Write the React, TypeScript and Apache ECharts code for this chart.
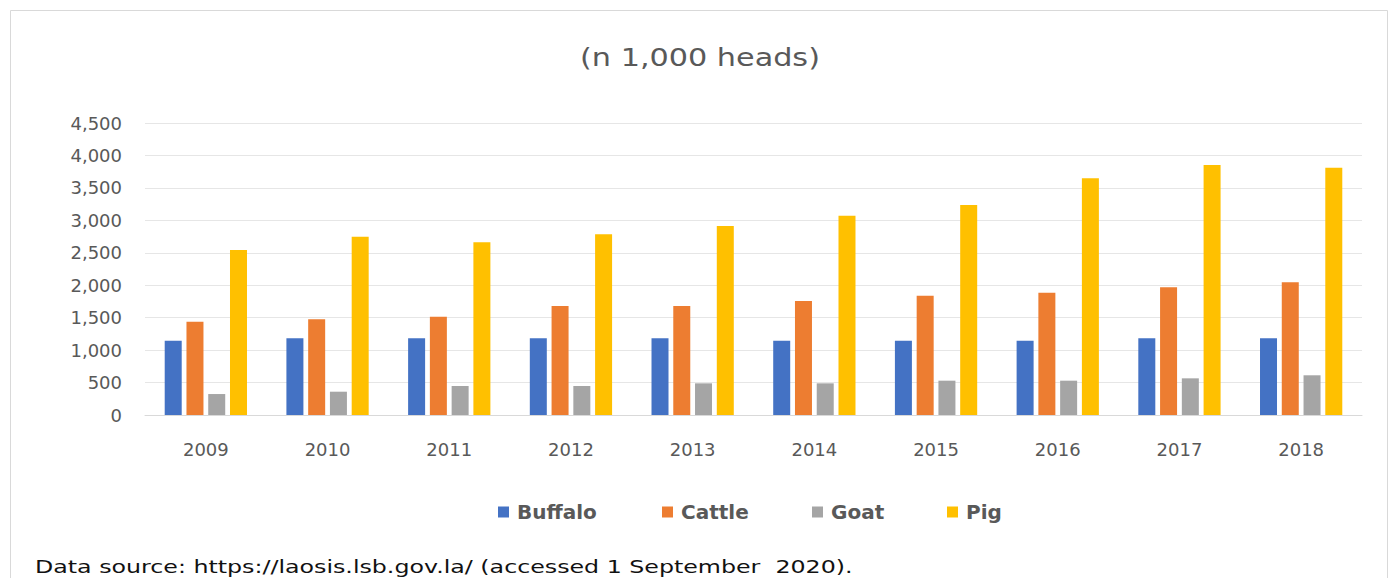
import React, { useEffect, useRef } from "react";
import * as echarts from "echarts";

const years = ["2009", "2010", "2011", "2012", "2013", "2014", "2015", "2016", "2017", "2018"];
const buffalo = [1145, 1182, 1182, 1182, 1182, 1145, 1145, 1145, 1182, 1182];
const cattle = [1438, 1475, 1515, 1680, 1680, 1757, 1838, 1885, 1968, 2045];
const goat = [323, 359, 447, 447, 488, 488, 529, 529, 565, 612];
const pig = [2543, 2748, 2661, 2784, 2912, 3071, 3236, 3647, 3852, 3811];
const seriesNames = ["Buffalo", "Cattle", "Goat", "Pig"];
const colors = ["#4472C4", "#ED7D31", "#A5A5A5", "#FFC000"];
const titleText = "(n 1,000 heads)";
const sourceText = "Data source: https://laosis.lsb.gov.la/ (accessed 1 September  2020).";

const FONT = "'DejaVu Sans', sans-serif";
const legendLefts = [493, 657, 807, 942];

function measure(text: string, font: string): number {
  const c = document.createElement("canvas").getContext("2d");
  if (!c) return 1;
  c.font = font;
  return c.measureText(text).width || 1;
}

export default function App() {
  const ref = useRef<HTMLDivElement>(null);
  useEffect(() => {
    document.body.style.margin = "0";
    const chart = echarts.init(ref.current!, null, { renderer: "svg" });
    const data = [buffalo, cattle, goat, pig];
    const titleSize = 24;
    const srcSize = 18;
    const titleW = measure(titleText, `${titleSize}px 'DejaVu Sans'`);
    const srcW = measure(sourceText, `${srcSize}px 'DejaVu Sans'`);
    const titleScale = 240 / titleW;
    const srcScale = 818 / srcW;
    chart.setOption({
      animation: false,
      backgroundColor: "#ffffff",
      textStyle: { fontFamily: FONT },
      legend: seriesNames.map((name, i) => ({
        data: [name],
        top: 497,
        left: legendLefts[i],
        itemWidth: 11,
        itemHeight: 11,
        icon: "rect",
        textStyle: {
          fontFamily: FONT,
          fontSize: 20,
          color: "#595959",
          fontWeight: "bold",
          padding: [0, 0, 0, 3],
        },
      })),
      grid: { left: 145, right: 30, top: 123, bottom: 163, containLabel: false },
      xAxis: {
        type: "category",
        data: years,
        axisTick: { show: false },
        axisLine: { lineStyle: { color: "#d9d9d9", width: 1 } },
        axisLabel: { color: "#595959", fontSize: 18, margin: 25, fontFamily: FONT },
      },
      yAxis: {
        type: "value",
        min: 0,
        max: 4500,
        interval: 500,
        axisLine: { show: false },
        axisTick: { show: false },
        splitLine: { lineStyle: { color: "#e6e6e6", width: 1 } },
        axisLabel: {
          color: "#595959",
          fontSize: 18,
          margin: 23,
          fontFamily: FONT,
          formatter: (v: number) => v.toLocaleString("en-US"),
        },
      },
      graphic: [
        {
          type: "rect",
          shape: { x: 10.5, y: 10.5, width: 1377, height: 600 },
          style: { fill: "none", stroke: "#d9d9d9", lineWidth: 1 },
          silent: true,
        },
        {
          type: "text",
          x: 700,
          y: 58,
          scaleX: titleScale,
          style: {
            text: titleText,
            fontFamily: FONT,
            fontSize: titleSize,
            fill: "#595959",
            align: "center",
            verticalAlign: "middle",
          },
        },
        {
          type: "text",
          x: 35,
          y: 567,
          scaleX: srcScale,
          style: {
            text: sourceText,
            fontFamily: FONT,
            fontSize: srcSize,
            fill: "#111111",
            align: "left",
            verticalAlign: "middle",
          },
        },
      ],
      series: seriesNames.map((name, i) => ({
        name,
        type: "bar",
        data: data[i],
        barWidth: 17,
        barGap: "28%",
        itemStyle: { color: colors[i] },
      })),
    });
    return () => chart.dispose();
  }, []);
  return <div ref={ref} style={{ width: 1392, height: 578 }} />;
}
